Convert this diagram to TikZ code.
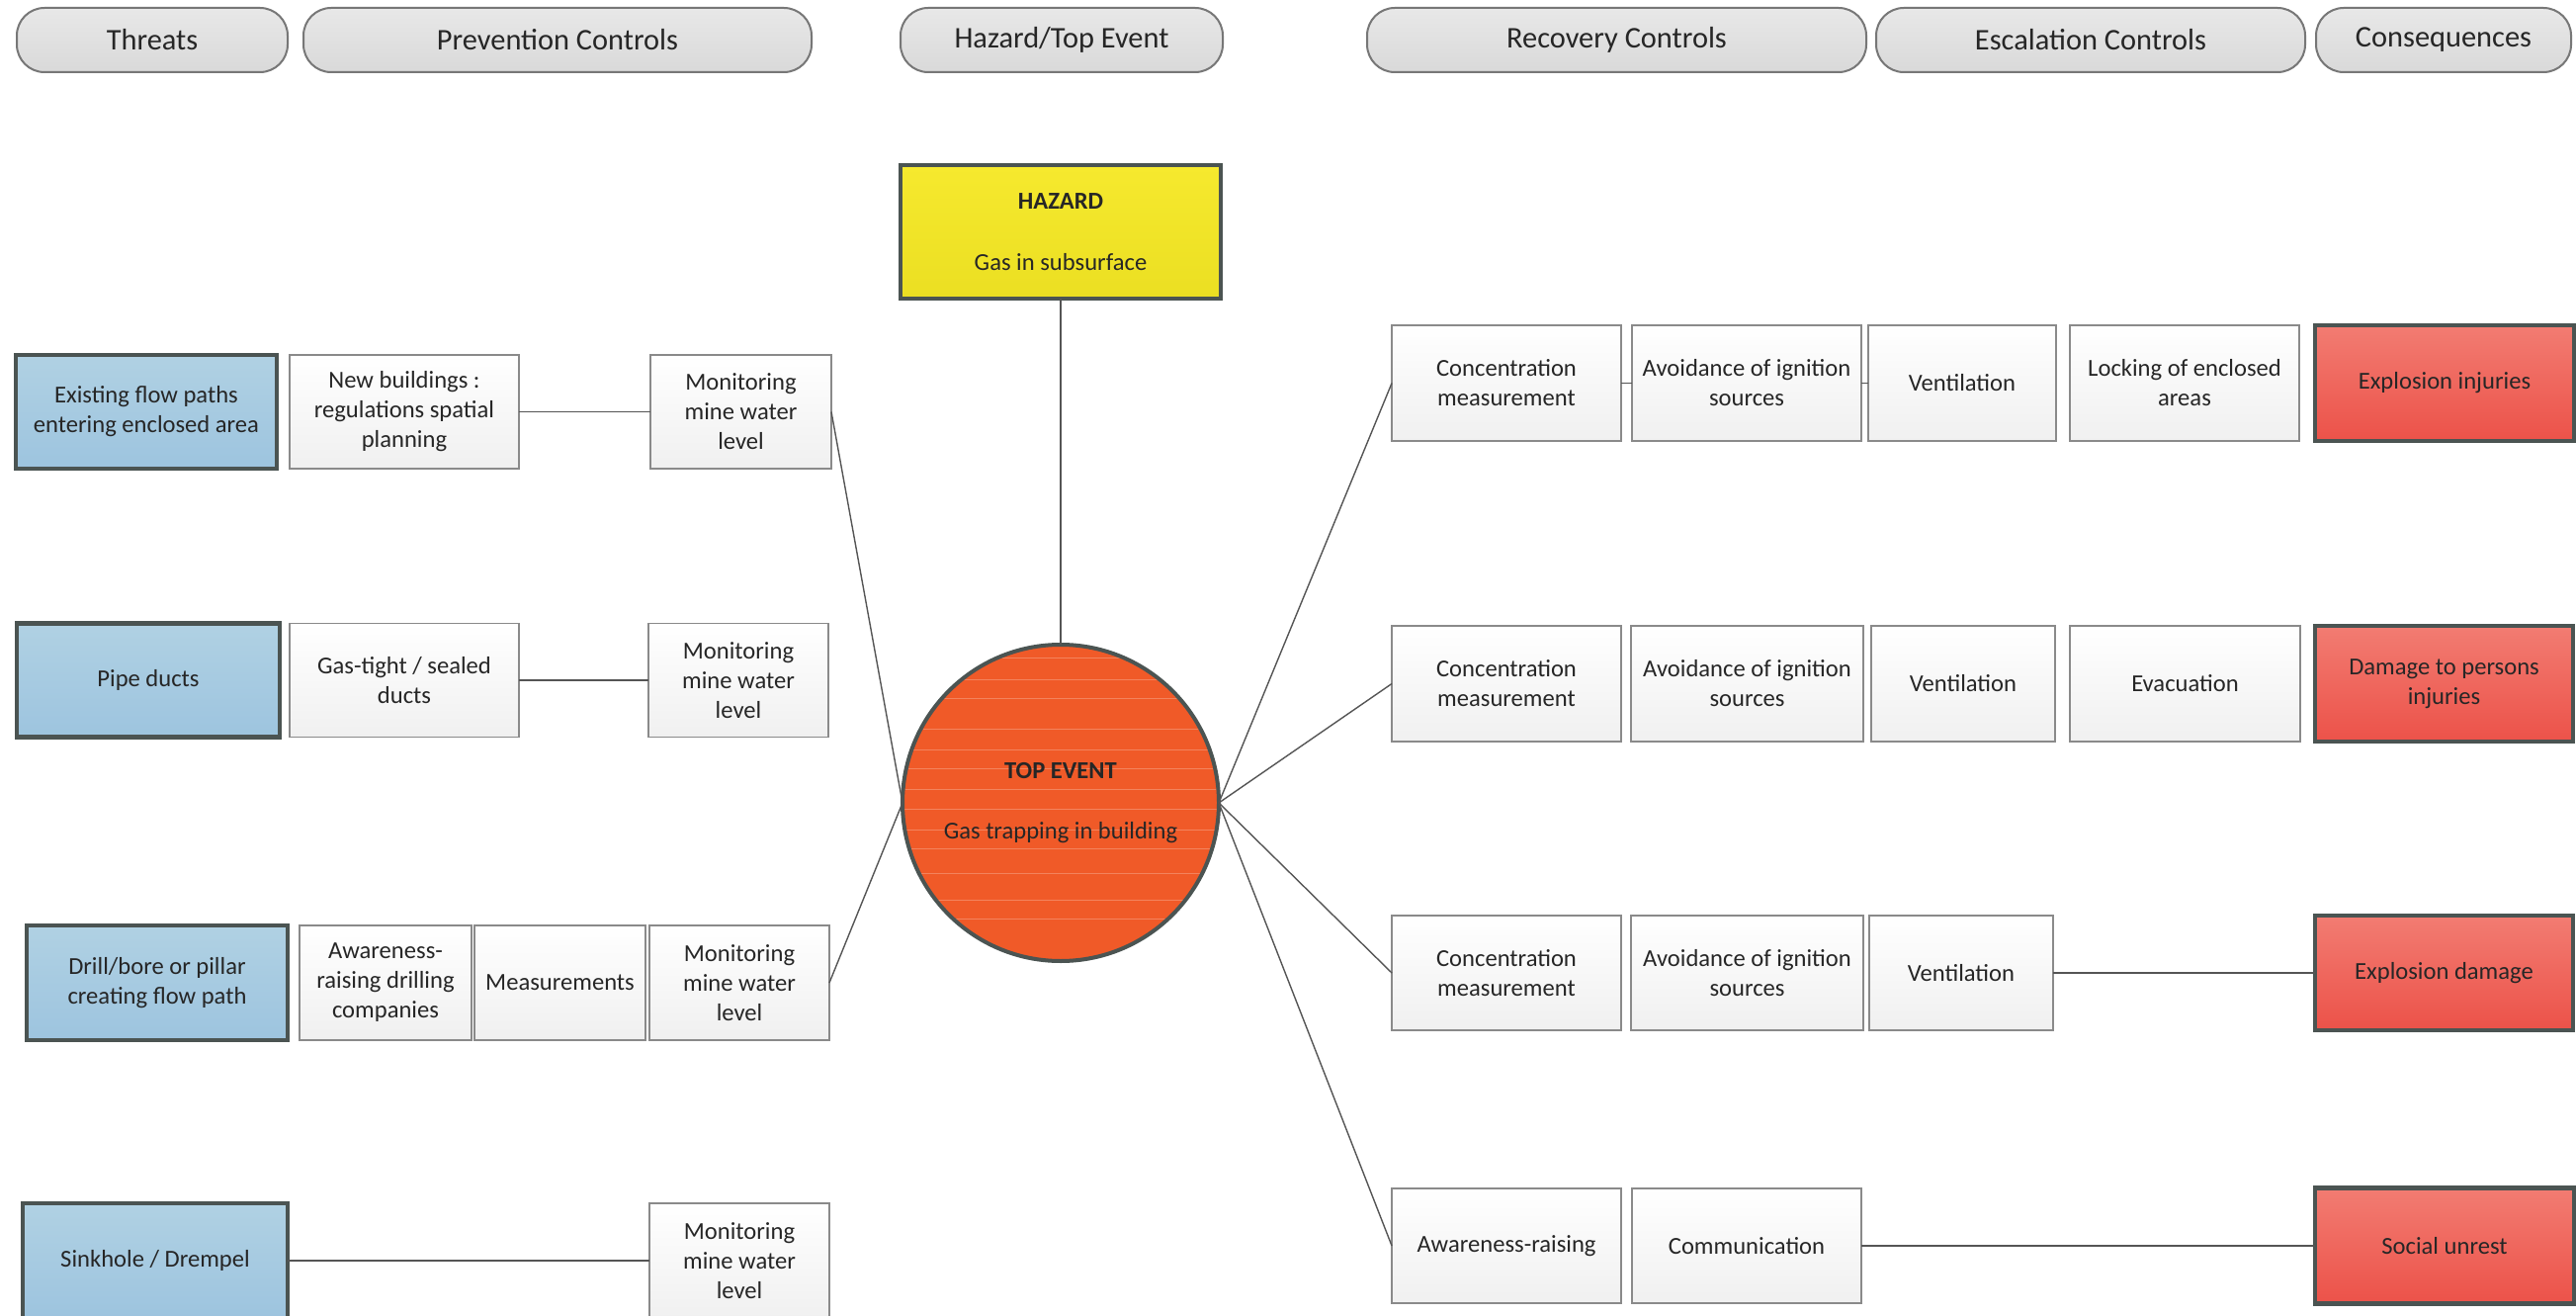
\documentclass[tikz,border=0pt]{standalone}
\usepackage{fontspec}
\setmainfont{Carlito}
\definecolor{txt}{HTML}{262626}
\definecolor{dark}{HTML}{4B5452}
\definecolor{hdrline}{HTML}{777777}
\definecolor{hdrtop}{HTML}{E8E8E8}
\definecolor{hdrbot}{HTML}{D9D9D9}
\definecolor{ctrlline}{HTML}{8A8A8A}
\definecolor{ctrlbot}{HTML}{F0F0F0}
\definecolor{thrtop}{HTML}{B0D1E3}
\definecolor{thrbot}{HTML}{9DC4DF}
\definecolor{constop}{HTML}{F27C72}
\definecolor{consbot}{HTML}{EC5249}
\definecolor{haztop}{HTML}{F6E92E}
\definecolor{hazbot}{HTML}{EBDF22}
\definecolor{topc}{HTML}{F05A28}
\definecolor{linkc}{HTML}{555555}
\newcommand\myboxfont{\fontsize{12.3pt}{15pt}\selectfont}
\newcommand\myhdrfont{\fontsize{15.2pt}{18pt}\selectfont}
\tikzset{
  boxbase/.style 2 args={minimum width=#1*0.5pt, minimum height=#2*0.5pt, inner sep=0pt, outer sep=0pt, align=center, font=\myboxfont, text=txt},
  hdr/.style={boxbase={#1}{65}, draw=hdrline, line width=1pt, rounded corners=14pt, top color=hdrtop, bottom color=hdrbot, font=\myhdrfont},
  ctrl/.style 2 args={boxbase={#1}{#2}, draw=ctrlline, line width=0.8pt, top color=white, bottom color=ctrlbot},
  threat/.style 2 args={boxbase={#1}{#2}, draw=dark, line width=2.4pt, top color=thrtop, bottom color=thrbot},
  cons/.style 2 args={boxbase={#1}{#2}, draw=dark, line width=2.4pt, top color=constop, bottom color=consbot},
  link/.style={draw=linkc, line width=0.7pt}
}
\begin{document}
\begin{tikzpicture}[x=0.5pt,y=-0.5pt]
\useasboundingbox (0,0) rectangle (2606,1331);
\fill[white] (0,0) rectangle (2606,1331);
% headers
\node[hdr=274] (h1) at (154,40.5) {Threats};
\node[hdr=514] (h2) at (564,40.5) {Prevention Controls};
\node[hdr=326] (h3) at (1074,40.5) {Hazard/Top Event};
\node[hdr=505] (h4) at (1635.5,40.5) {Recovery Controls};
\node[hdr=434] (h5) at (2115,40.5) {Escalation Controls};
\node[hdr=258] (h6) at (2472,40.5) {Consequences};
% hazard
\node[boxbase={324}{135}, draw=dark, line width=2.4pt, top color=haztop, bottom color=hazbot] (haz) at (1073,234.5) {\textbf{HAZARD}\\[16pt]Gas in subsurface};
% top event
\fill[topc] (1073,812) circle (80pt);
\begin{scope}
\clip (1073,812) circle (80pt);
\foreach \yy in {665,687,706,737,758,777,798,818,839,858,883,910,929}
  \draw[white, opacity=0.25, line width=0.5pt] (900,\yy) -- (1250,\yy);
\end{scope}
\node[circle, minimum size=160pt, inner sep=0pt, outer sep=0pt, draw=dark, line width=2pt, align=center, font=\myboxfont, text=txt] (top) at (1073,812) {\textbf{TOP EVENT}\\[15.5pt]Gas trapping in building};
% left side
\node[threat={264}{115}] (t1) at (148,416.5) {Existing flow paths\\entering enclosed area};
\node[ctrl={232}{115}] (p1a) at (409,416.5) {New buildings :\\regulations spatial\\planning};
\node[ctrl={183}{115}] (p1b) at (749.5,416.5) {Monitoring\\mine water\\level};
\node[threat={266}{115}] (t2) at (150,688) {Pipe ducts};
\node[ctrl={232}{115}] (p2a) at (409,688) {Gas-tight / sealed\\ducts};
\node[ctrl={182}{115}] (p2b) at (747,688) {Monitoring\\mine water\\level};
\node[threat={264}{116}] (t3) at (159,994) {Drill/bore or pillar\\creating flow path};
\node[ctrl={174}{116}] (p3a) at (390,994) {Awareness-\\raising drilling\\companies};
\node[ctrl={173}{116}] (p3b) at (566.5,994) {Measurements};
\node[ctrl={182}{116}] (p3c) at (748,994) {Monitoring\\mine water\\level};
\node[threat={268}{116}] (t4) at (157,1275) {Sinkhole / Drempel};
\node[ctrl={182}{116}] (p4) at (748,1275) {Monitoring\\mine water\\level};
% right side
\node[ctrl={232}{117}] (r1a) at (1524,387.5) {Concentration\\measurement};
\node[ctrl={232}{117}] (r1b) at (1767,387.5) {Avoidance of ignition\\sources};
\node[ctrl={190}{117}] (r1c) at (1985,387.5) {Ventilation};
\node[ctrl={232}{117}] (e1) at (2210,387.5) {Locking of enclosed\\areas};
\node[cons={262}{117}] (c1) at (2473,387.5) {Explosion injuries};
\node[ctrl={232}{117}] (r2a) at (1524,691.5) {Concentration\\measurement};
\node[ctrl={235}{117}] (r2b) at (1767.5,691.5) {Avoidance of ignition\\sources};
\node[ctrl={186}{117}] (r2c) at (1986,691.5) {Ventilation};
\node[ctrl={233}{117}] (e2) at (2210.5,691.5) {Evacuation};
\node[cons={261}{117}] (c2) at (2472.5,691.5) {Damage to persons\\injuries};
\node[ctrl={232}{116}] (r3a) at (1524,984) {Concentration\\measurement};
\node[ctrl={235}{116}] (r3b) at (1767.5,984) {Avoidance of ignition\\sources};
\node[ctrl={186}{116}] (r3c) at (1984,984) {Ventilation};
\node[cons={261}{116}] (c3) at (2472.5,984) {Explosion damage};
\node[ctrl={232}{116}] (r4a) at (1524,1260) {Awareness-raising};
\node[ctrl={232}{116}] (r4b) at (1767,1260) {Communication};
\node[cons={262}{117}] (c4) at (2473,1260) {Social unrest};
% connectors
\draw[link] (haz) -- (top);
\draw[link] (p1a) -- (p1b);
\draw[link] (p2a) -- (p2b);
\draw[link] (t4) -- (p4);
\draw[link] (p1b.east) -- (top.west);
\draw[link] (p3c.east) -- (top.west);
\draw[link] (top.east) -- (r1a.west);
\draw[link] (top.east) -- (r2a.west);
\draw[link] (top.east) -- (r3a.west);
\draw[link] (top.east) -- (r4a.west);
\draw[link] (r1a) -- (r1b);
\draw[link] (r1b) -- (r1c);
\draw[link] (r3c) -- (c3);
\draw[link] (r4b) -- (c4);
\end{tikzpicture}
\end{document}
